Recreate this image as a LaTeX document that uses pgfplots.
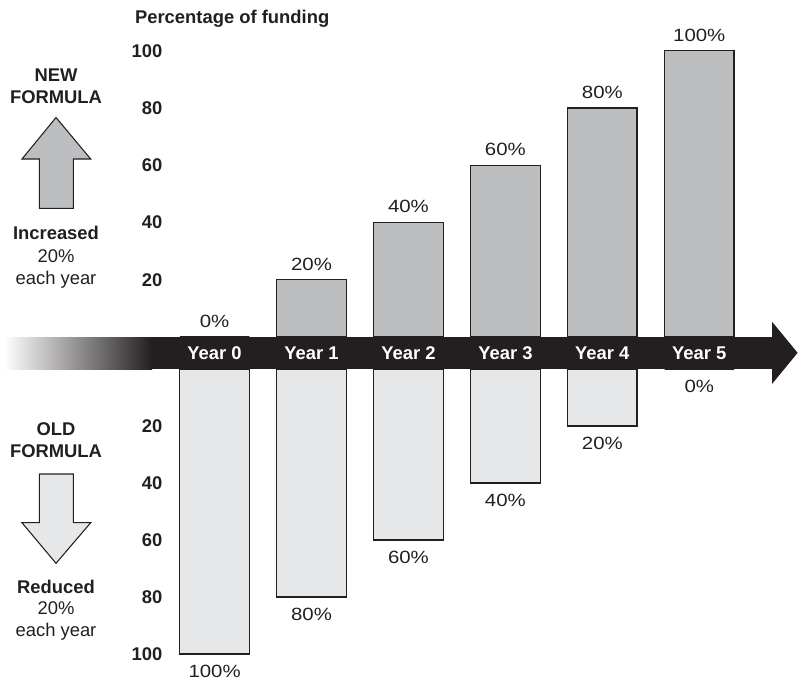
\documentclass[border=0pt]{standalone}
\usepackage{fontspec}
\setmainfont{Liberation Sans}
\newfontfamily\pctfont[FakeStretch=1.15]{Liberation Sans}
\usepackage{pgfplots}
\usepackage{pgfplotstable}
\pgfplotsset{compat=1.18}

\definecolor{ink}{HTML}{231F20}
\definecolor{newgray}{HTML}{BCBEC0}
\definecolor{oldgray}{HTML}{E6E7E8}

\newcommand\lbl{\fontsize{13.8}{16.6}\selectfont}
\newcommand\pct{\pctfont\fontsize{13.3}{16}\selectfont}

% share of funding under each formula, by year
\pgfplotstableread{
year new old
0    0   100
1    20  80
2    40  60
3    60  40
4    80  20
5    100 0
}\funding

\pgfplotsset{
  fundbars/.style={
    scale only axis,
    width=436.2pt,
    xmin=-0.5, xmax=5.5,
    ymin=0, ymax=100,
    ybar, bar width=0.717,
    axis line style={draw=none},
    major tick length=0pt,
    ytick={20,40,60,80,100},
    /pgf/number format/assume math mode=true,
    yticklabel style={font=\lbl\bfseries, text=ink, anchor=east,
      inner sep=0pt, xshift=-2.6pt},
    clip=false,
    nodes near coords={\pgfmathprintnumber{\pgfplotspointmeta}\%},
  },
}

\begin{document}
\begin{tikzpicture}[x=0.75pt,y=-0.75pt]
\useasboundingbox (0,0) rectangle (798,681);

% timeline band with fading tail and arrowhead
\shade[left color=white, right color=ink] (4,337) rectangle (152,369);
\fill[ink] (151,337) rectangle (773,369);
\fill[ink] (772,321.7) -- (797.6,352.8) -- (772,384) -- cycle;

\coordinate (up) at (166.13,337);
\coordinate (dn) at (166.13,369);

% new formula: rising share
\begin{axis}[fundbars,
  at={(up)}, anchor=south west, height=214.7pt,
  xtick={0,...,5},
  xticklabels={Year 0,Year 1,Year 2,Year 3,Year 4,Year 5},
  xticklabel style={font=\lbl\bfseries, text=white, anchor=base,
    inner sep=0pt, yshift=-17pt},
  nodes near coords style={font=\pct, text=ink, anchor=base,
    inner sep=0pt, yshift=7.3pt},
]
\addplot[draw=ink, line width=0.9pt, fill=newgray]
  table[x=year, y=new] {\funding};
\end{axis}

% old formula: falling share
\begin{axis}[fundbars,
  at={(dn)}, anchor=north west, height=213.75pt,
  y dir=reverse,
  xtick=\empty,
  nodes near coords style={font=\pct, text=ink, anchor=base,
    inner sep=0pt, yshift=-17.5pt},
]
\addplot[draw=ink, line width=0.9pt, fill=oldgray]
  table[x=year, y=old] {\funding};
\end{axis}

% axis title
\node[font=\lbl\bfseries, text=ink, anchor=base] at (232.2,23.2)
  {Percentage of funding};

% left-hand key: new formula
\node[font=\lbl\bfseries, text=ink, anchor=base] at (56,81.7) {NEW};
\node[font=\lbl\bfseries, text=ink, anchor=base] at (56,104) {FORMULA};
\filldraw[fill=newgray, draw=ink, line width=0.8pt]
  (56,117.5) -- (90.7,159) -- (73.3,159) -- (73.3,208.3)
  -- (39.3,208.3) -- (39.3,159) -- (22,159) -- cycle;
\node[font=\lbl\bfseries, text=ink, anchor=base] at (56,239.3) {Increased};
\node[font=\lbl, text=ink, anchor=base] at (56,262.3) {20\%};
\node[font=\lbl, text=ink, anchor=base] at (56,284.5) {each year};

% left-hand key: old formula
\node[font=\lbl\bfseries, text=ink, anchor=base] at (56,435) {OLD};
\node[font=\lbl\bfseries, text=ink, anchor=base] at (56,457.3) {FORMULA};
\filldraw[fill=oldgray, draw=ink, line width=0.8pt]
  (39.3,474) -- (73.3,474) -- (73.3,522.7) -- (90.7,522.7)
  -- (56,563.3) -- (22,522.7) -- (39.3,522.7) -- cycle;
\node[font=\lbl\bfseries, text=ink, anchor=base] at (56,593.3) {Reduced};
\node[font=\lbl, text=ink, anchor=base] at (56,614) {20\%};
\node[font=\lbl, text=ink, anchor=base] at (56,636) {each year};
\end{tikzpicture}
\end{document}
